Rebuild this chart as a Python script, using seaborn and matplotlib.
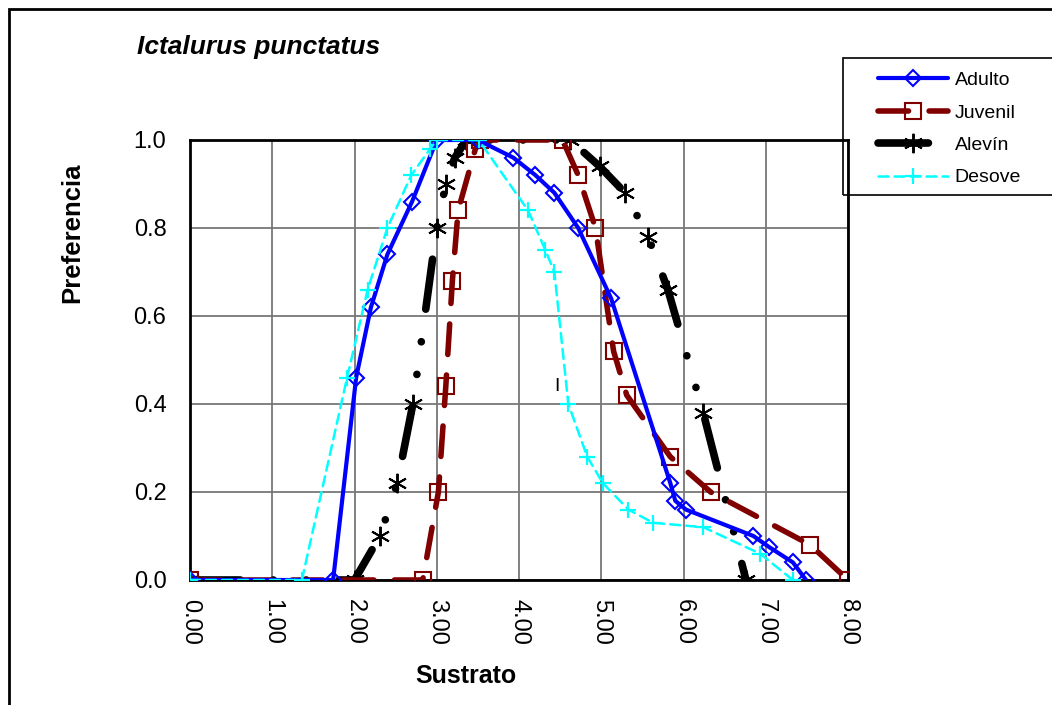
import numpy as np
import pandas as pd
import matplotlib
matplotlib.use("Agg")
import matplotlib.pyplot as plt
import matplotlib.patches as mpatches
import seaborn as sns

# Datos (Sustrato vs Preferencia)
adulto_x = [0.0, 1.74, 2.02, 2.2, 2.4, 2.7, 3.0, 3.5, 3.93, 4.2, 4.43, 4.72, 5.12, 5.84, 5.9, 6.03, 6.85, 7.04, 7.33, 7.49]
adulto_y = [0.0, 0.0, 0.46, 0.62, 0.74, 0.86, 1.0, 1.0, 0.96, 0.92, 0.88, 0.80, 0.64, 0.22, 0.18, 0.16, 0.10, 0.075, 0.04, 0.0]

juvenil_x = [0.0, 2.83, 3.02, 3.11, 3.19, 3.26, 3.47, 3.53, 4.53, 4.72, 4.93, 5.15, 5.31, 5.84, 6.33, 7.54, 8.0]
juvenil_y = [0.0, 0.0, 0.20, 0.44, 0.68, 0.84, 0.98, 1.0, 1.0, 0.92, 0.80, 0.52, 0.42, 0.28, 0.20, 0.08, 0.0]

alevin_x = [0.0, 2.0, 2.31, 2.52, 2.71, 3.0, 3.11, 3.22, 3.36, 4.62, 4.98, 5.29, 5.57, 5.81, 6.24, 6.76]
alevin_y = [0.0, 0.0, 0.10, 0.22, 0.40, 0.80, 0.90, 0.96, 1.0, 1.0, 0.94, 0.88, 0.78, 0.66, 0.38, 0.0]

desove_x = [0.0, 1.36, 1.91, 2.16, 2.4, 2.69, 2.92, 3.0, 3.51, 4.11, 4.32, 4.43, 4.6, 4.83, 5.02, 5.33, 5.63, 6.24, 6.93, 7.33]
desove_y = [0.0, 0.0, 0.46, 0.66, 0.80, 0.92, 0.98, 1.0, 1.0, 0.84, 0.75, 0.70, 0.40, 0.28, 0.22, 0.16, 0.13, 0.12, 0.06, 0.0]

x_ticks = [0, 1, 2, 3, 4, 5, 6, 7, 8]
y_ticks = [0.0, 0.2, 0.4, 0.6, 0.8, 1.0]

sns.set_style("white")
plt.rcParams["font.family"] = ["Liberation Sans", "DejaVu Sans"]
plt.rcParams["text.color"] = "black"
plt.rcParams["axes.labelcolor"] = "black"
plt.rcParams["xtick.color"] = "black"
plt.rcParams["ytick.color"] = "black"

W, H = 1052, 705
fig = plt.figure(figsize=(W / 100, H / 100), dpi=100)
ax = fig.add_axes([190 / W, 1 - 580 / H, 658 / W, 440 / H])

series = [
    ("Adulto", adulto_x, adulto_y, "#0000ff",
     dict(lw=3.0, linestyle="-", marker="D", ms=8, mfc="none", mew=1.5), 4),
    ("Juvenil", juvenil_x, juvenil_y, "#800000",
     dict(lw=4.0, linestyle=(0, (5.5, 3.7)), marker="s", ms=11.5, mfc="none", mew=1.5), 3),
    ("Alevín", alevin_x, alevin_y, "black",
     dict(lw=5.5, linestyle=(0, (6.6, 4.3, 0.01, 4.3, 0.01, 4.3)), marker=(6, 2, 0), ms=14, mew=1.4), 2),
    ("Desove", desove_x, desove_y, "#00ffff",
     dict(lw=1.8, linestyle=(0, (4, 2.4)), marker="+", ms=11, mew=1.6), 5),
]

for name, xs, ys, col, kw, z in series:
    df = pd.DataFrame({"Sustrato": xs, "Preferencia": ys})
    sns.lineplot(data=df, x="Sustrato", y="Preferencia", ax=ax, sort=False, estimator=None,
                 color=col, markeredgecolor=col, dash_capstyle="round", solid_capstyle="round",
                 label=name, zorder=z, **kw)

ax.set_xlim(0, 8)
ax.set_ylim(0, 1.0)
ax.set_xticks(x_ticks)
ax.set_xticklabels([f"{v:.2f}" for v in x_ticks], rotation=-90, fontsize=17)
ax.set_yticks(y_ticks)
ax.set_yticklabels([f"{v:.1f}" for v in y_ticks], fontsize=17)
ax.tick_params(axis="both", direction="out", length=6, width=1.2, color="black", pad=11)
ax.tick_params(axis="x", pad=8)
ax.grid(True, color="#777777", lw=1.3)
ax.set_axisbelow(True)
for s in ax.spines.values():
    s.set_color("black")
    s.set_linewidth(2)

ax.set_xlabel("Sustrato", fontsize=18, fontweight="bold")
ax.xaxis.set_label_coords((466 - 190) / 658, (580 - 676) / 440)
ax.xaxis.label.set_va("center")
ax.set_ylabel("Preferencia", fontsize=18.5, fontweight="bold")
ax.yaxis.set_label_coords((72 - 190) / 658, (580 - 233) / 440)
ax.yaxis.label.set_va("center")

fig.text(137 / W, 1 - 47 / H, "Ictalurus punctatus", fontsize=19, fontweight="bold",
         style="italic", ha="left", va="center")

ax.text(4.46, 0.44, "I", fontsize=14, ha="center", va="center")

h, l = ax.get_legend_handles_labels()
ax.get_legend().remove()
leg = fig.legend(h, l, loc="upper left", bbox_to_anchor=(862 / W, 1 - 56 / H), fontsize=14,
                 frameon=False, handlelength=3.6, labelspacing=0.76, borderpad=0.3,
                 handletextpad=0.36)
leg.set_zorder(10)
# marco de la leyenda (sale por el borde derecho)
fig.add_artist(mpatches.Rectangle((843 / W, 1 - 195 / H), 0.3, 137 / H, transform=fig.transFigure,
                                  fill=False, lw=1.2, edgecolor="black"))

# marco exterior del gráfico
fig.add_artist(mpatches.Rectangle((9 / W, -0.05), 1.2, 1.05 - 9 / H, transform=fig.transFigure,
                                  fill=False, lw=2, edgecolor="black"))

fig.savefig("out.png", dpi=100)
